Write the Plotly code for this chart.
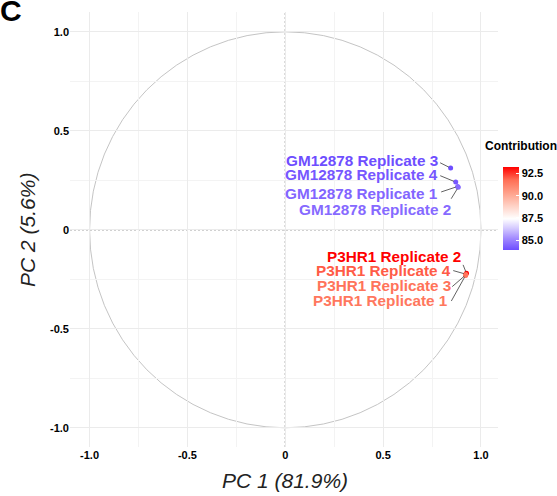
import plotly.graph_objects as go

# ---- data ----
labels = ["GM12878 Replicate 3", "GM12878 Replicate 4", "GM12878 Replicate 1", "GM12878 Replicate 2",
          "P3HR1 Replicate 2", "P3HR1 Replicate 4", "P3HR1 Replicate 3", "P3HR1 Replicate 1"]
pc1 = [0.845, 0.871, 0.881, 0.884, 0.926, 0.922, 0.922, 0.921]
pc2 = [0.312, 0.241, 0.219, 0.215, -0.220, -0.224, -0.228, -0.231]
contribution = [83.9, 84.1, 84.4, 84.5, 93.2, 92.0, 91.6, 91.5]
tick_vals = [-1.0, -0.5, 0, 0.5, 1.0]
tick_text = ["-1.0", "-0.5", "0", "0.5", "1.0"]
cbar_vals = [85.0, 87.5, 90.0, 92.5]
cbar_text = ["85.0", "87.5", "90.0", "92.5"]

# repelled label placement (pixels, relative to the point): label right edge / centre,
# and the start of the connecting segment
label_dx = [-14, -19, -21, -8, -6, -16, -16, -19]
label_dy = [-8, -8, 7, 22, -17, -4, 11, 25]
seg_dx = [-12, -17, -18, -8, -4, -14, -15, -15]
seg_dy = [-6, -7, 6, 13, -10, -4, 13, 27]

cmin, cmax = 83.9, 93.2
mid = 87.4
fw = (mid - cmin) / (cmax - cmin)


def hex2rgb(h):
    h = h.lstrip("#")
    return tuple(int(h[i:i + 2], 16) for i in (0, 2, 4))


# Lab-like gradient (blue -> white -> red), approximated with stops
stops = [
    (0.0, "#6E4EFF"),
    (fw * 0.375, "#A38BFF"),
    (fw * 0.6875, "#D3C8FF"),
    (fw, "#FFFFFF"),
    (fw + (1 - fw) * 0.25, "#FFD1C5"),
    (fw + (1 - fw) * 0.5, "#FFA08A"),
    (fw + (1 - fw) * 0.75, "#FF6E55"),
    (1.0, "#FF0000"),
]
colorscale = [[p, c] for p, c in stops]


def color_for(v):
    f = (v - cmin) / (cmax - cmin)
    f = min(max(f, 0), 1)
    for (p0, c0), (p1, c1) in zip(stops[:-1], stops[1:]):
        if p0 <= f <= p1:
            t = 0 if p1 == p0 else (f - p0) / (p1 - p0)
            a, b = hex2rgb(c0), hex2rgb(c1)
            c = [round(a[i] + (b[i] - a[i]) * t) for i in range(3)]
            return "rgb(%d,%d,%d)" % tuple(c)
    return stops[-1][1]


FONT = "Liberation Sans, Arial, sans-serif"

fig = go.Figure()
fig.add_trace(go.Scatter(
    x=pc1, y=pc2, mode="markers",
    marker=dict(size=5, color=contribution, colorscale=colorscale, cmin=cmin, cmax=cmax,
                showscale=True,
                colorbar=dict(x=1.012, xanchor="left", y=0.548, yanchor="middle",
                              len=83, lenmode="pixels", thickness=16, thicknessmode="pixels",
                              outlinewidth=0, tickvals=cbar_vals, ticktext=cbar_text,
                              ticks="inside", tickcolor="white", ticklen=3,
                              tickfont=dict(family=FONT, size=11, color="black", weight="bold"),
                              xpad=0, ypad=0)),
    hoverinfo="text", text=labels, showlegend=False))

shapes = [
    dict(type="circle", xref="x", yref="y", x0=-1, y0=-1, x1=1, y1=1,
         line=dict(color="#BDBDBD", width=0.9), layer="below"),
    dict(type="line", xref="x", yref="paper", x0=0, x1=0, y0=0, y1=1,
         line=dict(color="#666666", width=1, dash="2px,2px"), layer="below"),
    dict(type="line", xref="paper", yref="y", x0=0, x1=1, y0=0, y1=0,
         line=dict(color="#666666", width=1, dash="2px,2px"), layer="below"),
]

annotations = []
for i, lab in enumerate(labels):
    col = color_for(contribution[i])
    # connecting segment
    annotations.append(dict(
        x=pc1[i], y=pc2[i], xref="x", yref="y", text="",
        showarrow=True, arrowhead=0, arrowwidth=0.8, arrowcolor="#3A3A3A",
        ax=seg_dx[i], ay=seg_dy[i], axref="pixel", ayref="pixel", standoff=2))
    # label
    annotations.append(dict(
        x=pc1[i], y=pc2[i], xref="x", yref="y", text="<b>%s</b>" % lab,
        showarrow=False, xanchor="right", yanchor="middle",
        xshift=label_dx[i] + 2, yshift=-label_dy[i], borderpad=0,
        font=dict(family=FONT, size=15.3, color=col)))

annotations += [
    dict(text="PC 1 (81.9%)", xref="paper", yref="paper", x=0.502, y=-0.076,
         showarrow=False, xanchor="center", yanchor="middle",
         font=dict(family=FONT, size=21, color="#222", style="italic")),
    dict(text="PC 2 (5.6%)", xref="paper", yref="paper", x=-0.098, y=0.499,
         showarrow=False, xanchor="center", yanchor="middle", textangle=-90,
         font=dict(family=FONT, size=21, color="#222", style="italic")),
    dict(text="<b>Contribution</b>", xref="paper", yref="paper", x=0.965, y=0.672,
         showarrow=False, xanchor="left", yanchor="bottom",
         font=dict(family=FONT, size=12, color="black")),
]

axis_common = dict(
    tickvals=tick_vals, ticktext=tick_text, showgrid=True, gridcolor="#EBEBEB", gridwidth=0.8,
    zeroline=False, showline=False, ticks="",
    tickfont=dict(family=FONT, size=11, color="black", weight="bold"),
    minor=dict(dtick=0.25, tick0=0, showgrid=True, gridcolor="#F3F3F3", gridwidth=0.6),
)

fig.update_layout(
    width=557, height=496,
    margin=dict(l=70, r=59, t=12, b=49, autoexpand=False),
    paper_bgcolor="white", plot_bgcolor="white",
    xaxis=dict(range=[-1.1, 1.087], automargin=False, **axis_common),
    yaxis=dict(range=[-1.097, 1.1], automargin=False, **axis_common),
    shapes=shapes, annotations=annotations,
    title=dict(text="<b>C</b>", x=0.0, xanchor="left", xref="container",
               y=1.0, yanchor="top", yref="container", pad=dict(t=0, l=0),
               automargin=False,
               font=dict(family=FONT, size=30, color="black")),
)

fig.write_html("out.html", config={"displayModeBar": False},
               post_script="document.body.style.margin='0px';document.body.style.overflow='hidden';")
